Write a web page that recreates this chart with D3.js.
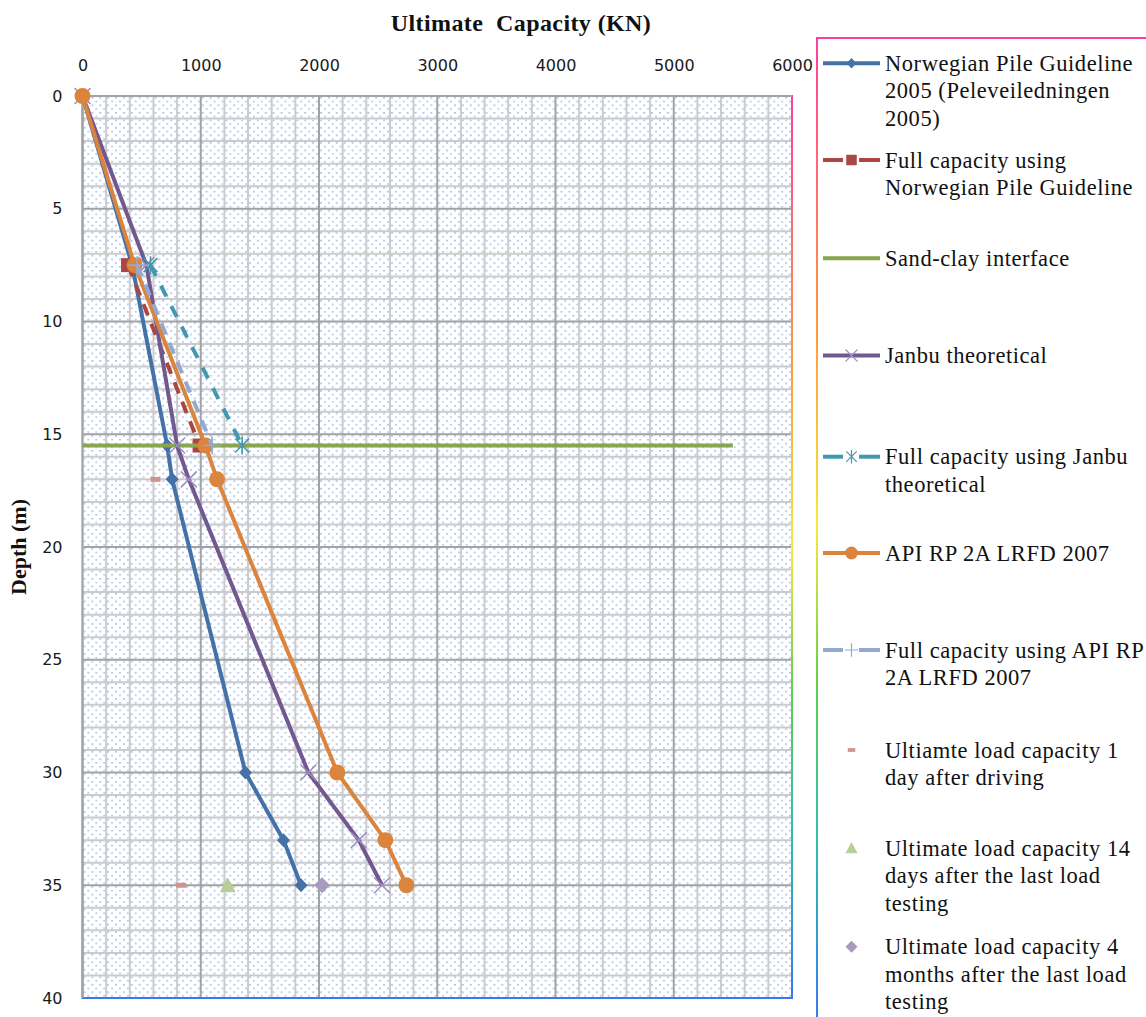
<!DOCTYPE html>
<html>
<head>
<meta charset="utf-8">
<script src="https://cdn.jsdelivr.net/npm/d3@7"></script>
<style>
  html, body { margin: 0; padding: 0; background: #fff; }
  svg { display: block; }
</style>
</head>
<body>
<svg id="chart" width="1146" height="1017"></svg>
<script>
// ---------------- DATA ----------------
const xTicks = [0, 1000, 2000, 3000, 4000, 5000, 6000];
const yTicks = [0, 5, 10, 15, 20, 25, 30, 35, 40];

const norwegianDepth = [0, 7.5, 15.5, 17, 30, 33, 35];
const norwegianCap   = [0, 420, 716, 758, 1378, 1700, 1848];

const fullNorwegianDepth = [7.5, 15.5];
const fullNorwegianCap   = [385, 990];

const sandClayDepth = [15.5, 15.5];
const sandClayCap   = [0, 5500];

const janbuDepth = [0, 7.5, 15.5, 17, 30, 33, 35];
const janbuCap   = [0, 540, 800, 899, 1910, 2336, 2533];

const fullJanbuDepth = [7.5, 15.5];
const fullJanbuCap   = [575, 1350];

const apiDepth = [0, 7.5, 15.5, 17, 30, 33, 35];
const apiCap   = [0, 440, 1040, 1138, 2155, 2561, 2739];

const fullApiDepth = [7.5, 15.5];
const fullApiCap   = [462, 1096];

const oneDayDepth = [17, 35];
const oneDayCap   = [617, 834];

const fourteenDayDepth = [35];
const fourteenDayCap   = [1228];

const fourMonthDepth = [35];
const fourMonthCap   = [2026];

const legendLabels = [
  ["Norwegian Pile Guideline", "2005 (Peleveiledningen", "2005)"],
  ["Full capacity using", "Norwegian Pile Guideline"],
  ["Sand-clay interface"],
  ["Janbu theoretical"],
  ["Full capacity using Janbu", "theoretical"],
  ["API RP 2A LRFD 2007"],
  ["Full capacity using API RP", "2A LRFD 2007"],
  ["Ultiamte load capacity 1", "day after driving"],
  ["Ultimate load capacity 14", "days after the last load", "testing"],
  ["Ultimate load capacity 4", "months after the last load", "testing"]
];

// ---------------- SERIES DEFINITIONS ----------------
const zip = (d, c) => d.map((v, i) => ({depth: v, cap: c[i]}));
const series = [
  {data: zip(norwegianDepth, norwegianCap), color: "#4472A8", line: true, dash: null, marker: "diamond"},
  {data: zip(fullNorwegianDepth, fullNorwegianCap), color: "#AA4643", line: true, dash: "12,9", marker: "square"},
  {data: zip(sandClayDepth, sandClayCap), color: "#89A54E", line: true, dash: null, marker: null},
  {data: zip(janbuDepth, janbuCap), color: "#71588F", line: true, dash: null, marker: "x"},
  {data: zip(fullJanbuDepth, fullJanbuCap), color: "#4198AF", line: true, dash: "12,11", marker: "star"},
  {data: zip(apiDepth, apiCap), color: "#DB843D", line: true, dash: null, marker: "circle"},
  {data: zip(fullApiDepth, fullApiCap), color: "#93A9CF", line: true, dash: "12,9", marker: "plus"},
  {data: zip(oneDayDepth, oneDayCap), color: "#D19392", line: false, marker: "dash"},
  {data: zip(fourteenDayDepth, fourteenDayCap), color: "#B9CD96", line: false, marker: "triangle"},
  {data: zip(fourMonthDepth, fourMonthCap), color: "#A99BBD", line: false, marker: "diamondBig"}
];

// ---------------- LAYOUT ----------------
const svg = d3.select("#chart");
const plot = {left: 82.5, right: 792, top: 96, bottom: 998};

const x = d3.scaleLinear().domain([0, 6000]).range([plot.left, plot.right]);
const y = d3.scaleLinear().domain([0, 40]).range([plot.top, plot.bottom]);

const defs = svg.append("defs");

// dotted pattern fill
const pat = defs.append("pattern")
  .attr("id", "dots").attr("patternUnits", "userSpaceOnUse")
  .attr("x", plot.left).attr("y", plot.top)
  .attr("width", (x(200) - x(0)) / 3).attr("height", (y(1) - y(0)) / 3);
pat.append("circle").attr("cx", 2).attr("cy", 1.8).attr("r", 0.75).attr("fill", "#6f98dc");
pat.append("circle").attr("cx", 5.9).attr("cy", 5.5).attr("r", 0.75).attr("fill", "#6f98dc");

function rainbow(id, y1, y2) {
  const g = defs.append("linearGradient").attr("id", id)
    .attr("gradientUnits", "userSpaceOnUse")
    .attr("x1", 0).attr("x2", 0).attr("y1", y1).attr("y2", y2);
  [[0, "#ff3f9f"], [0.3, "#ff9a3c"], [0.5, "#f5ea3a"], [0.66, "#5fd04a"], [0.82, "#2fbfae"], [1, "#3a78f0"]]
    .forEach(([o, c]) => g.append("stop").attr("offset", o).attr("stop-color", c));
}
rainbow("rb1", plot.top, plot.bottom);
rainbow("rb2", 38, 1017);

// plot background
svg.append("rect")
  .attr("x", plot.left).attr("y", plot.top)
  .attr("width", plot.right - plot.left).attr("height", plot.bottom - plot.top)
  .attr("fill", "url(#dots)");

// gridlines
const g = svg.append("g");
const xMinor = d3.range(200, 6000, 200).filter(v => v % 1000 !== 0);
const xMajor = [1000, 2000, 3000, 4000, 5000];
const yMinor = d3.range(1, 40, 1).filter(v => v % 5 !== 0);
const yMajor = [5, 10, 15, 20, 25, 30, 35];

g.selectAll(".vmin").data(xMinor).enter().append("line")
  .attr("x1", d => x(d)).attr("x2", d => x(d)).attr("y1", plot.top).attr("y2", plot.bottom)
  .attr("stroke", "#cbcbcb").attr("stroke-width", 2);
g.selectAll(".hmin").data(yMinor).enter().append("line")
  .attr("y1", d => y(d)).attr("y2", d => y(d)).attr("x1", plot.left).attr("x2", plot.right)
  .attr("stroke", "#cbcbcb").attr("stroke-width", 2);
g.selectAll(".vmaj").data(xMajor).enter().append("line")
  .attr("x1", d => x(d)).attr("x2", d => x(d)).attr("y1", plot.top).attr("y2", plot.bottom)
  .attr("stroke", "#a2a2a2").attr("stroke-width", 2);
g.selectAll(".hmaj").data(yMajor).enter().append("line")
  .attr("y1", d => y(d)).attr("y2", d => y(d)).attr("x1", plot.left).attr("x2", plot.right)
  .attr("stroke", "#a2a2a2").attr("stroke-width", 2);

// plot border (gradient), then gray top & left axis lines
svg.append("rect")
  .attr("x", plot.left).attr("y", plot.top)
  .attr("width", plot.right - plot.left).attr("height", plot.bottom - plot.top)
  .attr("fill", "none").attr("stroke", "url(#rb1)").attr("stroke-width", 2);
svg.append("line").attr("x1", plot.left).attr("x2", plot.right).attr("y1", plot.top).attr("y2", plot.top)
  .attr("stroke", "#a2a2a2").attr("stroke-width", 2);
svg.append("line").attr("x1", plot.left).attr("x2", plot.left).attr("y1", plot.top).attr("y2", plot.bottom)
  .attr("stroke", "#a2a2a2").attr("stroke-width", 2);

// axes (labels only)
const xAxis = svg.append("g").attr("transform", `translate(0,${plot.top - 22})`)
  .call(d3.axisTop(x).tickValues(xTicks).tickSize(0).tickFormat(d3.format("d")));
xAxis.select(".domain").remove();
xAxis.selectAll("text").attr("font-family", "'DejaVu Sans', sans-serif").attr("font-size", 16)
  .attr("fill", "#1a1a1a").attr("dy", 0);

const yAxis = svg.append("g").attr("transform", `translate(${plot.left - 20},0)`)
  .call(d3.axisLeft(y).tickValues(yTicks).tickSize(0).tickFormat(d3.format("d")));
yAxis.select(".domain").remove();
yAxis.selectAll("text").attr("font-family", "'DejaVu Sans', sans-serif").attr("font-size", 16)
  .attr("fill", "#1a1a1a").attr("x", 0);

// titles
svg.append("text").attr("x", 521).attr("y", 31).attr("text-anchor", "middle")
  .attr("font-family", "'Liberation Serif', serif").attr("font-weight", "bold").attr("font-size", 24)
  .attr("letter-spacing", 0.4)
  .attr("fill", "#111").attr("xml:space", "preserve").text("Ultimate  Capacity (KN)");
svg.append("text").attr("transform", "translate(26,547) rotate(-90)").attr("text-anchor", "middle")
  .attr("font-family", "'Liberation Serif', serif").attr("font-weight", "bold").attr("font-size", 22)
  .attr("fill", "#111").text("Depth (m)");

// ---------------- MARKERS ----------------
function drawMarker(sel, type, color, cx, cy, scale) {
  const s = scale || 1;
  const m = sel.append("g").attr("transform", `translate(${cx},${cy}) scale(${s})`);
  if (type === "diamond") {
    m.append("path").attr("d", "M0,-7L6.5,0L0,7L-6.5,0Z").attr("fill", color);
  } else if (type === "diamondBig") {
    m.append("path").attr("d", "M0,-8L8,0L0,8L-8,0Z").attr("fill", color);
  } else if (type === "square") {
    m.append("rect").attr("x", -7).attr("y", -7).attr("width", 14).attr("height", 14).attr("fill", color);
  } else if (type === "circle") {
    m.append("circle").attr("r", 8).attr("fill", color);
  } else if (type === "x") {
    m.append("path").attr("d", "M-8,-8L8,8M-8,8L8,-8").attr("stroke", "#9f8fc0").attr("stroke-width", 1.5).attr("fill", "none");
  } else if (type === "star") {
    m.append("path").attr("d", "M-7,-7L7,7M-7,7L7,-7M0,-9L0,9").attr("stroke", color).attr("stroke-width", 1.6).attr("fill", "none");
  } else if (type === "plus") {
    m.append("path").attr("d", "M-9,0L9,0M0,-9L0,9").attr("stroke", color).attr("stroke-width", 1.6).attr("fill", "none");
  } else if (type === "dash") {
    m.append("rect").attr("x", -5).attr("y", -2.5).attr("width", 10).attr("height", 5).attr("fill", color);
  } else if (type === "triangle") {
    m.append("path").attr("d", "M0,-8L8,7L-8,7Z").attr("fill", color);
  }
}

// ---------------- SERIES ----------------
const lineGen = d3.line().x(d => x(d.cap)).y(d => y(d.depth));
const layer = svg.append("g");
series.forEach(s => {
  const grp = layer.append("g");
  if (s.line) {
    grp.append("path").datum(s.data).attr("d", lineGen)
      .attr("fill", "none").attr("stroke", s.color).attr("stroke-width", 4)
      .attr("stroke-linejoin", "round")
      .attr("stroke-dasharray", s.dash || null);
  }
  if (s.marker) {
    s.data.forEach(d => drawMarker(grp, s.marker, s.color, x(d.cap), y(d.depth)));
  }
});

// ---------------- LEGEND ----------------
svg.append("rect").attr("x", 817).attr("y", 38).attr("width", 400).attr("height", 1100)
  .attr("fill", "none").attr("stroke", "url(#rb2)").attr("stroke-width", 2);

const legendY = [63.3, 160, 258.3, 355.5, 456.7, 553, 650, 750, 848, 946.7];
const lg = svg.append("g");
series.forEach((s, i) => {
  const cy = legendY[i];
  if (s.line) {
    if (s.dash) {
      lg.append("line").attr("x1", 823).attr("x2", 843).attr("y1", cy).attr("y2", cy)
        .attr("stroke", s.color).attr("stroke-width", 4);
      lg.append("line").attr("x1", 859).attr("x2", 880).attr("y1", cy).attr("y2", cy)
        .attr("stroke", s.color).attr("stroke-width", 4);
    } else {
      lg.append("line").attr("x1", 823).attr("x2", 880).attr("y1", cy).attr("y2", cy)
        .attr("stroke", s.color).attr("stroke-width", 4);
    }
  }
  if (s.marker) drawMarker(lg, s.marker, s.color, 851.5, cy, s.marker === "circle" ? 0.8 : 0.75);
  const t = lg.append("text").attr("x", 885).attr("y", cy + 7.5)
    .attr("font-family", "'Liberation Serif', serif").attr("font-size", 22.5).attr("letter-spacing", 0.55)
    .attr("fill", "#111");
  legendLabels[i].forEach((line, j) => {
    t.append("tspan").attr("x", 885).attr("dy", j === 0 ? 0 : 27.5).text(line);
  });
});
</script>
</body>
</html>
